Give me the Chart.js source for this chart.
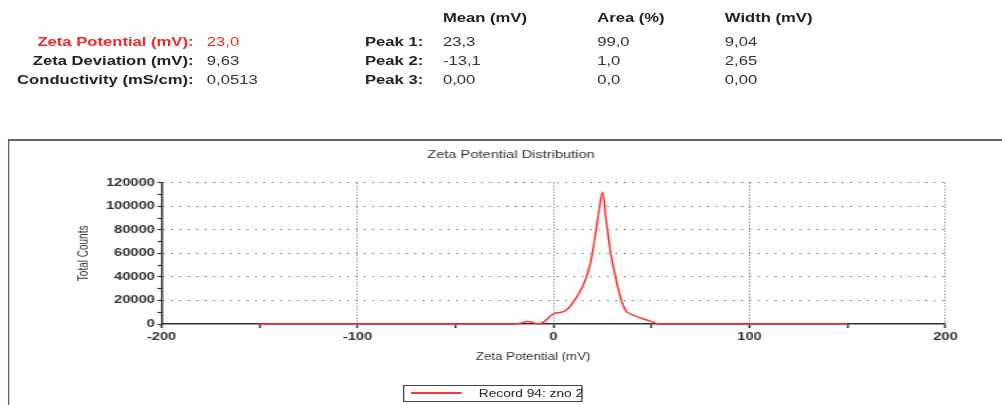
<!DOCTYPE html>
<html>
<head>
<meta charset="utf-8">
<script src="https://cdn.jsdelivr.net/npm/chart.js@4/dist/chart.umd.min.js"></script>
<style>
  html, body { margin: 0; padding: 0; background: #fff; overflow: hidden; }
  body { width: 1002px; height: 405px; font-family: "Liberation Sans", Arial, sans-serif; }
  /* the source picture is stretched sideways, so the whole page is drawn narrow and widened */
  #page { position: absolute; left: 0; top: 0; width: 760px; height: 405px; transform: scaleX(1.33); transform-origin: 0 0; }
  .t { position: absolute; font-size: 12.5px; line-height: 14px; white-space: nowrap; color: #333; }
  .b { font-weight: bold; color: #222; }
  .red { color: #ee2b2b; }
  #frame { position: absolute; left: 6px; top: 139px; width: 800px; height: 300px; border-left: 1.5px solid #666; border-top: 2px solid #666; }
  #chart { position: absolute; left: 8px; top: 141px; }
  #legend { position: absolute; left: 303px; top: 385px; width: 135px; height: 17px; box-sizing: border-box; border: 1.5px solid #444; }
  #legend .line { position: absolute; left: 5px; top: 6px; width: 38px; height: 1.6px; background: #ff3535; }
  #legend .lbl { position: absolute; left: 56px; top: 1px; font-size: 10.3px; line-height: 13px; color: #222; white-space: nowrap; }
</style>
</head>
<body>
<div id="page">
  <div id="header"></div>
  <div id="frame"></div>
  <canvas id="chart" width="760" height="264"></canvas>
  <div id="legend"><div class="line"></div><div class="lbl">Record 94: zno 2</div></div>
</div>
<script>
// Summary values
const summaryLabels = ['Zeta Potential (mV):', 'Zeta Deviation (mV):', 'Conductivity (mS/cm):'];
const summaryValues = ['23,0', '9,63', '0,0513'];

// Peak table
const peakColumns = ['Mean (mV)', 'Area (%)', 'Width (mV)'];
const peakLabels = ['Peak 1:', 'Peak 2:', 'Peak 3:'];
const peakMean = ['23,3', '-13,1', '0,00'];
const peakArea = ['99,0', '1,0', '0,0'];
const peakWidth = ['9,04', '2,65', '0,00'];

// Distribution curve
const zetaMv = [-150, -20, -17, -13, -10, -8.5, -5, -3, -1, 1, 3, 6, 8, 10, 13, 15, 17, 19, 21, 23, 25, 27, 29, 31, 33, 35, 37, 40, 43, 46, 50, 54, 150];
const totalCounts = [0, 0, 600, 2200, 900, 0, 1600, 4500, 7600, 9200, 9800, 11200, 14000, 18500, 26000, 32500, 41000, 53000, 72000, 94000, 112000, 86000, 62000, 45000, 30000, 18000, 11000, 8000, 6000, 4200, 2000, 0, 0];

// Axis ticks
const xMajorTicks = [-200, -100, 0, 100, 200];
const yMajorTicks = [0, 20000, 40000, 60000, 80000, 100000, 120000];

// Header
const header = document.getElementById('header');
function addText(text, cls, left, centerY, right) {
  const el = document.createElement('div');
  el.className = 't ' + cls;
  el.textContent = text;
  if (right != null) { el.style.right = (760 - right) + 'px'; } else { el.style.left = left + 'px'; }
  el.style.top = (centerY - 7) + 'px';
  header.appendChild(el);
}
const rowY = [41.7, 60.7, 79.8];
summaryLabels.forEach((lbl, i) => {
  addText(lbl, 'b' + (i === 0 ? ' red' : ''), null, rowY[i], 145.5);
  addText(summaryValues[i], i === 0 ? 'red' : '', 155.5, rowY[i]);
});
const colX = [333, 449, 545];
peakColumns.forEach((c, i) => addText(c, 'b', colX[i], 18.3));
peakLabels.forEach((p, i) => {
  addText(p, 'b', 274.4, rowY[i]);
  addText(peakMean[i], '', colX[0], rowY[i]);
  addText(peakArea[i], '', colX[1], rowY[i]);
  addText(peakWidth[i], '', colX[2], rowY[i]);
});

// Chart
const font = 'Liberation Sans, Arial, sans-serif';
new Chart(document.getElementById('chart'), {
  type: 'scatter',
  data: {
    datasets: [{
      label: 'Record 94: zno 2',
      data: zetaMv.map((x, i) => ({ x, y: totalCounts[i] })),
      showLine: true,
      borderColor: '#ff3535',
      borderWidth: 1.5,
      pointRadius: 0,
      cubicInterpolationMode: 'monotone',
      fill: false,
      clip: false,
    }],
  },
  options: {
    responsive: false,
    animation: false,
    layout: { padding: { left: 49.5, right: 57.1, top: 0, bottom: 42 } },
    plugins: {
      legend: { display: false },
      tooltip: { enabled: false },
      title: {
        display: true,
        text: 'Zeta Potential Distribution',
        color: '#333',
        font: { family: font, size: 11, weight: 'normal' },
        padding: { top: 7.5, bottom: 21 },
      },
    },
    scales: {
      x: {
        type: 'linear',
        min: -200,
        max: 200,
        afterFit: (s) => { s.height = 39; },
        ticks: {
          stepSize: 50,
          autoSkip: false,
          maxRotation: 0,
          padding: 2,
          color: '#333',
          font: { family: font, size: 11, weight: 'bold' },
          callback: (v) => (xMajorTicks.includes(v) ? v : ''),
        },
        grid: {
          color: (c) => (c.tick && xMajorTicks.includes(c.tick.value) && c.tick.value !== -200 ? '#666' : 'transparent'),
          tickColor: '#333',
          tickLength: 4,
          tickWidth: 1.5,
          lineWidth: 1,
        },
        border: { display: true, color: '#333', width: 1.5, dash: [1, 2] },
        title: {
          display: true,
          text: 'Zeta Potential (mV)           ',
          color: '#333',
          font: { family: font, size: 10, weight: 'normal' },
          padding: 0,
        },
      },
      y: {
        min: 0,
        max: 120000,
        afterFit: (s) => { s.width = 63.9; },
        ticks: {
          stepSize: 10000,
          autoSkip: false,
          padding: 2,
          color: '#333',
          font: { family: font, size: 11, weight: 'bold' },
          callback: (v) => (yMajorTicks.includes(v) ? v : ''),
        },
        grid: {
          color: (c) => (c.tick && yMajorTicks.includes(c.tick.value) && c.tick.value !== 0 ? '#666' : 'transparent'),
          tickColor: '#333',
          tickLength: 3,
          tickWidth: 1.2,
          lineWidth: 1,
        },
        border: { display: true, color: '#333', width: 1.5, dash: [1.2, 5.1] },
        title: {
          display: true,
          text: 'Total Counts',
          color: '#333',
          font: { family: font, size: 10, weight: 'normal' },
          padding: 0,
        },
      },
    },
  },
});
</script>
</body>
</html>
